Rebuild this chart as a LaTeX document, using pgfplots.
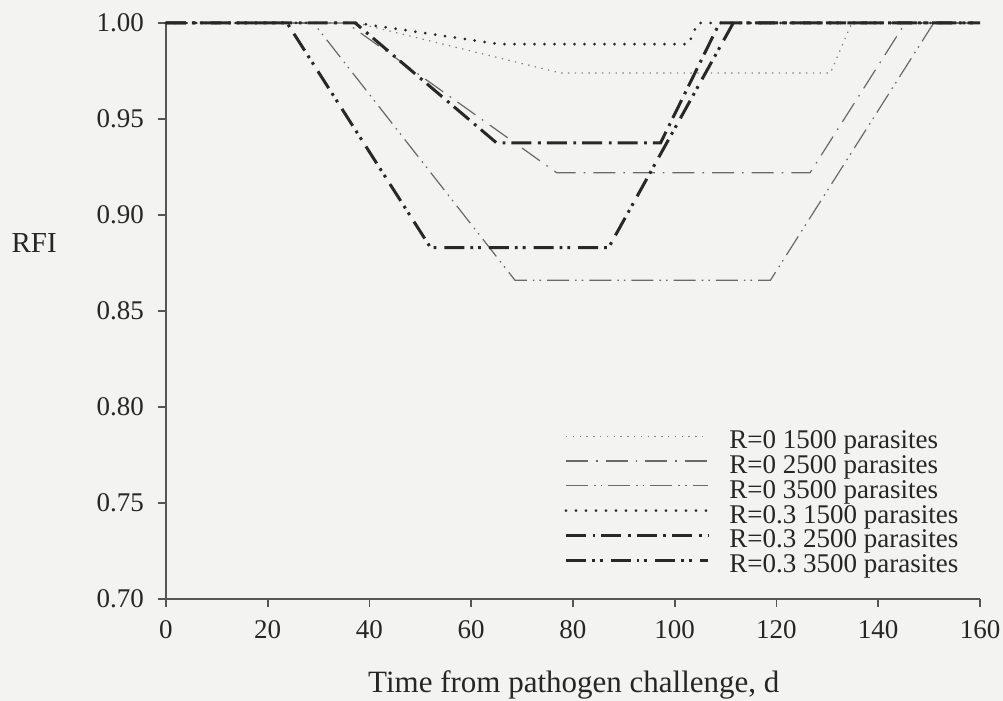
\documentclass[border=0pt]{standalone}
\usepackage{fontspec}
\setmainfont{Liberation Serif}
\usepackage{pgfplots}
\pgfplotsset{compat=1.18}
\definecolor{bg}{RGB}{243,243,242}
\definecolor{thinc}{RGB}{105,105,105}
\definecolor{dotc}{RGB}{130,130,130}
\definecolor{thickc}{RGB}{40,40,40}
\definecolor{axc}{RGB}{85,85,85}
\begin{document}
\begin{tikzpicture}
\path[use as bounding box, fill=bg] (-83pt,-51pt) rectangle (418.5pt,299.5pt);
\begin{axis}[
 width=407pt, height=288pt, scale only axis,
 xmin=0, xmax=160, ymin=0.7, ymax=1.0,
 axis x line=bottom, axis y line=left,
 axis line style={-, axc, line width=0.8pt},
 tick align=outside, major tick length=4pt,
 tick style={axc, line width=0.8pt},
 xtick={0,20,...,160},
 ytick={0.70,0.75,0.80,0.85,0.90,0.95,1.00},
 yticklabel style={/pgf/number format/fixed, /pgf/number format/fixed zerofill, /pgf/number format/precision=2, xshift=-3.5pt},
 xticklabel style={yshift=-3pt},
 /pgf/number format/assume math mode=true,
 ticklabel style={font=\fontsize{13.5}{15}\selectfont, color=black!85},
 clip=false,
 xlabel={Time from pathogen challenge, d},
 xlabel style={font=\fontsize{15.5}{18}\selectfont, color=black!85, at={(axis description cs:0.501,-0.149)}, anchor=center},
 ylabel={RFI},
 ylabel style={font=\fontsize{14.5}{17}\selectfont, color=black!85, rotate=-90, at={(axis description cs:-0.162,0.618)}, anchor=center},
 legend cell align=left,
 legend style={at={(axis description cs:0.4816,0.3013)}, anchor=north west, draw=none, fill=none,
   font=\fontsize{13.5}{15}\selectfont, text=black!85, row sep=0pt,
   nodes={inner sep=0pt, text height=9.4pt, text depth=3pt},
   /tikz/every odd column/.append style={column sep=10pt}},
 legend image code/.code={\draw[#1] (0pt,3pt) -- (71pt,3pt);},
]
% R=0 1500
\addplot[dotc, line width=0.6pt, dash pattern=on 0.7pt off 2.7pt] coordinates {
 (0,1.000) (37.5,1.000) (77.5,0.974) (130.6,0.974) (134.8,1.000) (160,1.000)};
\addlegendentry{R=0 1500 parasites}
% R=0 2500
\addplot[thinc, line width=0.6pt, dash pattern=on 11pt off 4pt on 0.8pt off 4pt] coordinates {
 (0,1.000) (35.5,1.000) (76.8,0.922) (126.6,0.922) (145.3,1.000) (160,1.000)};
\addlegendentry{R=0 2500 parasites}
% R=0 3500
\addplot[thinc, line width=0.6pt, dash pattern=on 11pt off 3pt on 0.8pt off 2.5pt on 0.8pt off 3pt] coordinates {
 (0,1.000) (29.0,1.000) (68.6,0.866) (118.8,0.866) (150.9,1.000) (160,1.000)};
\addlegendentry{R=0 3500 parasites}
% R=0.3 1500
\addplot[thickc, line width=1.5pt, line cap=round, dash pattern=on 0pt off 5pt] coordinates {
 (0,1.000) (37.5,1.000) (65.5,0.989) (102.7,0.989) (104.5,1.000) (160,1.000)};
\addlegendentry{R=0.3 1500 parasites}
% R=0.3 2500
\addplot[thickc, line width=1.5pt, dash pattern=on 10pt off 3.3pt on 1.4pt off 3pt] coordinates {
 (0,1.000) (37.2,1.000) (65.0,0.9375) (97.2,0.9375) (108.8,1.000) (160,1.000)};
\addlegendentry{R=0.3 2500 parasites}
% R=0.3 3500
\addplot[thickc, line width=1.5pt, dash pattern=on 10pt off 3pt on 1.4pt off 2.5pt on 1.4pt off 4pt] coordinates {
 (0,1.000) (23.8,1.000) (52.0,0.883) (87.0,0.883) (111.5,1.000) (160,1.000)};
\addlegendentry{R=0.3 3500 parasites}
\end{axis}
\end{tikzpicture}
\end{document}
